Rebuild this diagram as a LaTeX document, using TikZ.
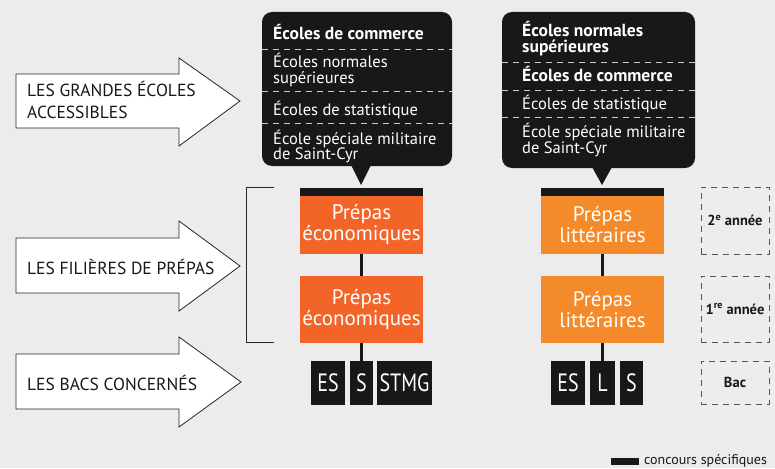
\documentclass[tikz,border=0pt]{standalone}
\usepackage{fontspec}
\setmainfont{PT Sans}
\newfontfamily\condfont{PT Sans}[FakeStretch=0.8]
\newcommand\tightlines{\lineskiplimit=-20pt\relax\lineskip=0pt\relax}
\definecolor{bg}{HTML}{EBECEB}
\definecolor{ink}{HTML}{171918}
\definecolor{orangeA}{HTML}{F26427}
\definecolor{orangeB}{HTML}{F58A2A}
\definecolor{dashgray}{HTML}{555555}
\tikzset{
  bigarrow/.style={draw=black!85, line width=0.8pt, fill=white, line join=miter},
  arrowtext/.style={anchor=base west, inner sep=0pt, font=\fontsize{17.5}{19}\selectfont, text=ink},
  callout/.style={fill=ink, rounded corners=10pt},
  ctext/.style={anchor=base west, inner sep=0pt, align=left, text=white, font=\fontsize{16.5}{15.5}\selectfont\tightlines},
  cbold/.style={ctext, font=\fontsize{17.5}{16}\selectfont\bfseries\tightlines},
  sep/.style={draw=white!80!black, dashed, dash pattern=on 6pt off 5pt, line width=0.9pt},
  prepa/.style={minimum width=123pt, minimum height=58pt, inner sep=0pt, text=white, align=center, font=\fontsize{21}{21}\selectfont},
  bar/.style={fill=ink, minimum width=123pt, minimum height=8pt, inner sep=0pt},
  bacbox/.style={fill=ink, text=white, minimum height=44pt, inner sep=0pt, font=\condfont\fontsize{25}{25}\selectfont},
  yearbox/.style={draw=dashgray, dashed, dash pattern=on 6pt off 5pt, line width=0.9pt, minimum width=68pt, inner sep=0pt, text=ink, font=\fontsize{14.5}{15}\selectfont\bfseries},
  link/.style={draw=ink, line width=2.5pt},
}
\begin{document}
\begin{tikzpicture}[x=1pt,y=-1pt]
\useasboundingbox (0,0) rectangle (775,468);
\fill[bg] (0,0) rectangle (775,468);

% ---- big arrows ----
\draw[bigarrow] (16,74) -- (179,74) -- (179,58) -- (240,101) -- (179,146) -- (179,128) -- (16,128) -- cycle;
\node[arrowtext] (a1) at (27,97) {LES GRANDES ÉCOLES};
\node[arrowtext] (a1b) at (27,118) {ACCESSIBLES};
\draw[bigarrow] (16,238) -- (179,238) -- (179,221) -- (240,266) -- (179,311) -- (179,293) -- (16,293) -- cycle;
\node[arrowtext] (a2) at (27,274) {LES FILIÈRES DE PRÉPAS};
\draw[bigarrow] (16,354) -- (179,354) -- (179,337) -- (241,382) -- (179,427) -- (179,409) -- (16,409) -- cycle;
\node[arrowtext] (a3) at (27,390) {LES BACS CONCERNÉS};

% ---- bracket ----
\draw[black!85, line width=0.8pt] (274,187) -- (246,187) -- (246,342) -- (274,342);

% ---- left callout ----
\fill[callout] (262,12) rectangle (452,166);
\fill[ink] (351,165) -- (371,165) -- (361,185) -- cycle;
\node[cbold] (l1) at (273,40) {Écoles de commerce};
\draw[sep] (262,49) -- (452,49);
\node[ctext] (l2) at (273,83.5) {Écoles normales\\supérieures};
\draw[sep] (262,91) -- (452,91);
\node[ctext] (l3) at (273,115) {Écoles de statistique};
\draw[sep] (262,123) -- (452,123);
\node[ctext] (l4) at (273,159.5) {École spéciale militaire\\de Saint-Cyr};

% ---- right callout ----
\fill[callout] (502,12) rectangle (695,168);
\fill[ink] (592,167) -- (612,167) -- (602,185) -- cycle;
\node[cbold] (r1) at (522,53) {Écoles normales\\supérieures};
\draw[sep] (502,62) -- (695,62);
\node[cbold] (r2) at (522,82) {Écoles de commerce};
\draw[sep] (502,90) -- (695,90);
\node[ctext] (r3) at (522,110) {Écoles de statistique};
\draw[sep] (502,117) -- (695,117);
\node[ctext] (r4) at (522,153) {École spéciale militaire\\de Saint-Cyr};

% ---- prepas left ----
\node[bar] (lbar) at (361.5,192) {};
\node[prepa, fill=orangeA] (lp2) at (361.5,225) {Prépas\\économiques};
\node[prepa, fill=orangeA, minimum height=67pt] (lp1) at (361.5,309.5) {Prépas\\économiques};
\node[bacbox, minimum width=34pt] (les) at (328,383) {ES};
\node[bacbox, minimum width=23pt] (lsb) at (361.5,383) {S};
\node[bacbox, minimum width=55pt] (lstmg) at (404.5,383) {STMG};
\draw[link] (lp2.south) -- (lp1.north);
\draw[link] (lp1.south) -- (lsb.north);

% ---- prepas right ----
\node[bar] (rbar) at (602.5,192) {};
\node[prepa, fill=orangeB] (rp2) at (602.5,225) {Prépas\\littéraires};
\node[prepa, fill=orangeB, minimum height=67pt] (rp1) at (602.5,309.5) {Prépas\\littéraires};
\node[bacbox, minimum width=34pt] (res) at (568,383) {ES};
\node[bacbox, minimum width=25pt] (rl) at (602.5,383) {L};
\node[bacbox, minimum width=23pt] (rs) at (631.5,383) {S};
\draw[link] (rp2.south) -- (rp1.north);
\draw[link] (rp1.south) -- (rl.north);

% ---- year boxes ----
\node[yearbox, minimum height=67pt] (y2) at (735,220.5) {2\textsuperscript{e} année};
\node[yearbox, minimum height=66pt] (y1) at (735,309) {1\textsuperscript{re} année};
\node[yearbox, minimum height=43pt] (yb) at (735,382.5) {Bac};

% ---- legend ----
\node[fill=ink, minimum width=28pt, minimum height=7pt, inner sep=0pt] (leg) at (625,461.5) {};
\node[anchor=west, inner sep=0pt, text=ink, font=\fontsize{14}{15}\selectfont] (legt) at (644,461) {concours spécifiques};
\end{tikzpicture}
\end{document}
